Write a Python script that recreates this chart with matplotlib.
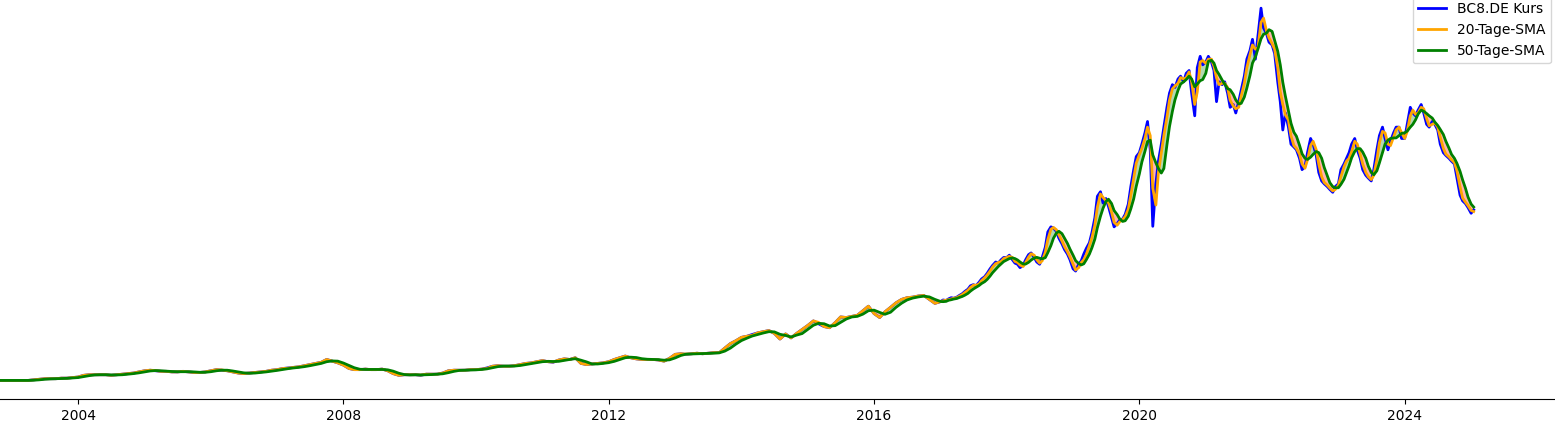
import matplotlib
matplotlib.use("Agg")
import matplotlib.dates as mdates
import matplotlib.pyplot as plt
import pandas as pd

# BC8.DE closing prices (EUR, split adjusted).
# Monthly values Sep 2002 - Dec 2016 (one row per year).
kurs_monatlich = [
    1.3, 1.3, 1.3, 1.3,
    1.3, 1.3, 1.3, 1.3, 1.4, 1.5, 1.6, 1.6, 1.6, 1.7, 1.7, 1.8,
    1.9, 2.2, 2.3, 2.3, 2.3, 2.3, 2.2, 2.3, 2.4, 2.5, 2.6, 2.8,
    3.0, 3.1, 3.0, 2.9, 2.9, 2.8, 2.8, 2.9, 2.8, 2.7, 2.7, 2.8,
    3.0, 3.2, 3.1, 3.0, 2.8, 2.6, 2.5, 2.6, 2.7, 2.8, 2.9, 3.1,
    3.2, 3.4, 3.5, 3.6, 3.7, 3.9, 4.1, 4.3, 4.5, 5.0, 4.7, 4.4,
    4.0, 3.4, 3.2, 3.2, 3.3, 3.2, 3.2, 3.3, 3.0, 2.5, 2.2, 2.3,
    2.3, 2.3, 2.2, 2.4, 2.4, 2.4, 2.6, 3.0, 3.1, 3.1, 3.1, 3.2,
    3.2, 3.3, 3.5, 3.8, 3.9, 3.8, 3.8, 3.9, 4.1, 4.3, 4.4, 4.6,
    4.8, 4.6, 4.5, 4.9, 5.1, 5.0, 5.3, 4.3, 4.1, 4.2, 4.3, 4.4,
    4.6, 5.0, 5.3, 5.6, 5.3, 5.1, 5.0, 5.0, 5.0, 4.9, 4.7, 5.2,
    5.9, 6.0, 5.9, 6.0, 6.1, 6.0, 6.1, 6.2, 6.2, 7.0, 7.8, 8.3,
    8.9, 9.1, 9.4, 9.7, 9.9, 10.1, 9.6, 8.6, 9.5, 8.8, 9.6, 10.3,
    11.0, 11.8, 11.3, 10.8, 10.6, 11.5, 12.5, 12.4, 12.6, 12.8, 13.6, 14.4,
    13.1, 12.4, 13.4, 14.2, 15.0, 15.6, 15.9, 16.0, 16.2, 16.3, 15.6, 14.9,
]

# Semi-monthly values (1st and 15th) Jan 2017 - Jan 2025 (one row per year).
kurs_halbmonatlich = [
    15.2, 15.5, 15.4, 15.7, 15.9, 15.8, 16.0, 16.3, 16.6, 17.0, 17.4, 18.0,
    18.2, 18.0, 18.6, 19.2, 19.6, 20.2, 21.0, 21.6, 22.2, 22.0, 22.6, 23.0,
    23.0, 23.4, 22.6, 22.0, 21.8, 21.2, 21.6, 22.6, 23.5, 23.8, 23.0, 22.2,
    21.8, 23.0, 24.8, 27.5, 28.4, 28.2, 27.6, 26.4, 25.4, 24.4, 23.6, 22.6,
    21.0, 20.6, 21.8, 22.4, 23.6, 24.6, 25.6, 27.4, 30.0, 33.8, 34.6, 32.6,
    33.4, 32.0, 30.0, 28.4, 29.0, 29.6, 29.8, 30.6, 32.4, 35.5, 38.5, 40.8,
    41.5, 43.0, 45.0, 47.0, 42.0, 28.5, 36.0, 40.0, 43.0, 46.0, 49.5, 52.0,
    53.5, 53.0, 54.5, 55.0, 54.0, 55.5, 56.0, 52.0, 48.0, 56.5, 58.5, 57.0,
    57.5, 58.5, 57.5, 56.0, 50.5, 54.0, 53.5, 54.0, 52.0, 49.5, 50.0, 48.5,
    50.5, 52.5, 55.0, 58.0, 59.5, 61.5, 58.0, 62.0, 67.0, 63.5, 62.5, 61.0,
    60.5, 59.0, 54.0, 50.5, 45.5, 48.5, 46.0, 43.0, 42.5, 42.0, 40.5, 38.5,
    39.0, 41.5, 44.0, 43.0, 41.0, 38.0, 36.5, 36.0, 35.5, 35.0, 34.5, 35.5,
    36.0, 38.5, 39.5, 40.5, 41.5, 43.0, 44.0, 42.0, 40.5, 38.5, 37.5, 37.0,
    36.5, 38.5, 42.0, 44.5, 46.0, 44.0, 42.0, 43.5, 45.0, 46.0, 46.0, 44.0,
    44.0, 46.5, 49.5, 48.5, 48.0, 49.0, 50.0, 48.5, 46.5, 46.0, 47.0, 46.5,
    45.5, 43.0, 41.5, 41.0, 40.5, 40.0, 39.5, 37.0, 34.0, 33.0, 32.5, 31.8,
    30.8, 31.4,
]

daten_monatlich = pd.date_range("2002-09-01", "2016-12-01", freq="MS")
daten_halbmonatlich = pd.date_range("2017-01-01", "2025-01-15", freq="SMS")

kurs = pd.Series(kurs_monatlich + kurs_halbmonatlich,
                 index=daten_monatlich.append(daten_halbmonatlich))

# moving averages over ~20 / ~50 trading days (calendar-day windows)
sma20 = kurs.rolling("29D").mean()
sma50 = kurs.rolling("72D").mean()

fig = plt.figure(figsize=(15.55, 4.23), dpi=100)
ax = fig.add_axes([0.0, 0.0567, 1.002, 0.968])

ax.plot(kurs.index, kurs.values, color="blue", lw=2, label="BC8.DE Kurs")
ax.plot(sma20.index, sma20.values, color="orange", lw=2, label="20-Tage-SMA")
ax.plot(sma50.index, sma50.values, color="green", lw=2, label="50-Tage-SMA")

ax.fill_between(kurs.index, sma20.values, sma50.values, where=sma20.values >= sma50.values,
                color="green", alpha=0.3, interpolate=True)
ax.fill_between(kurs.index, sma20.values, sma50.values, where=sma20.values < sma50.values,
                color="red", alpha=0.3, interpolate=True)

ax.set_xlim(pd.Timestamp("2002-10-28"), pd.Timestamp("2026-04-25"))
ax.xaxis.set_major_locator(mdates.YearLocator(4))
ax.xaxis.set_major_formatter(mdates.DateFormatter("%Y"))

for side in ["top", "right", "left"]:
    ax.spines[side].set_visible(False)
ax.set_yticks([])

ax.legend(loc="upper right")

fig.savefig("out.png", dpi=100)
